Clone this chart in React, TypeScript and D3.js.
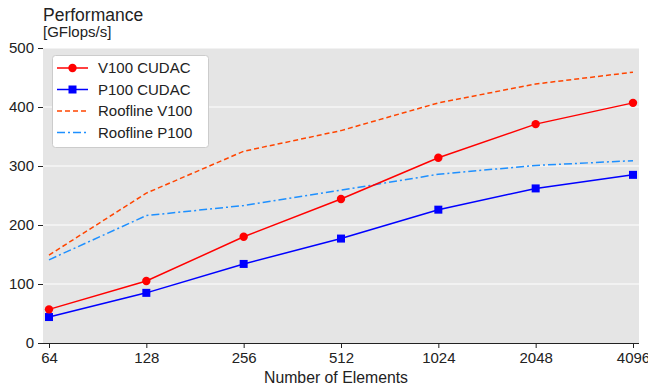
import React from "react";
import * as d3 from "d3";

const sizes = [64, 128, 256, 512, 1024, 2048, 4096];
const v100Cudac = [57, 105, 180, 244, 314, 371, 407];
const p100Cudac = [44, 85, 134, 177, 226, 262, 285];
const roofV100 = [149, 254, 325, 360, 407, 439, 459];
const roofP100 = [141, 216, 233, 259, 286, 301, 309];
const yTicks = [0, 100, 200, 300, 400, 500];

const series = [
  { name: "V100 CUDAC", values: v100Cudac, color: "#ff0000", dash: "", marker: "circle" },
  { name: "P100 CUDAC", values: p100Cudac, color: "#0000ff", dash: "", marker: "square" },
  { name: "Roofline V100", values: roofV100, color: "#ff4500", dash: "5,3", marker: "" },
  { name: "Roofline P100", values: roofP100, color: "#1e90ff", dash: "8,3,2,3", marker: "" },
];

const W = 648;
const H = 386;
const margin = { left: 43, right: 9, top: 48, bottom: 43 };
const font = "'Liberation Sans', Arial, sans-serif";

const App = () => {
  const ref = React.useRef<SVGSVGElement>(null);

  React.useEffect(() => {
    const svg = d3.select(ref.current);
    svg.selectAll("*").remove();
    const pw = W - margin.left - margin.right;
    const ph = H - margin.top - margin.bottom;
    const x = d3.scaleLog().base(2).domain([64, 4096]).range([margin.left + 6, margin.left + pw - 6]);
    const y = d3.scaleLinear().domain([0, 500]).range([margin.top + ph, margin.top]);

    svg.append("rect")
      .attr("x", margin.left).attr("y", margin.top)
      .attr("width", pw).attr("height", ph)
      .attr("fill", "#e5e5e5");

    svg.append("g").selectAll("line")
      .data(yTicks.slice(1))
      .enter().append("line")
      .attr("x1", margin.left).attr("x2", margin.left + pw)
      .attr("y1", d => y(d)).attr("y2", d => y(d))
      .attr("stroke", "#fff").attr("stroke-width", 1);

    const xAxis = svg.append("g")
      .attr("transform", `translate(0,${margin.top + ph})`)
      .call(d3.axisBottom(x).tickValues(sizes).tickFormat(d3.format("d")).tickSizeOuter(0).tickSize(5));
    xAxis.select(".domain").attr("d", `M${margin.left},0.5H${margin.left + pw}`).attr("stroke", "#222");
    xAxis.selectAll(".tick line").attr("stroke", "#222");
    xAxis.selectAll("text").attr("font-size", 15).attr("font-family", font).attr("fill", "#222")
      .attr("y", 20).attr("dy", null);

    const yAxis = svg.append("g")
      .attr("transform", `translate(${margin.left},0)`)
      .call(d3.axisLeft(y).tickValues(yTicks).tickSize(5).tickSizeOuter(0));
    yAxis.select(".domain").remove();
    yAxis.selectAll(".tick line").attr("stroke", "#222");
    yAxis.selectAll("text").attr("font-size", 15).attr("font-family", font).attr("fill", "#222").attr("x", -9);

    const line = d3.line<number>().x((_, i) => x(sizes[i])).y(d => y(d));

    // draw rooflines first, then measured series
    [...series].reverse().forEach(s => {
      svg.append("path")
        .attr("d", line(s.values))
        .attr("fill", "none")
        .attr("stroke", s.color)
        .attr("stroke-width", 1.5)
        .attr("stroke-dasharray", s.dash || null);
      if (s.marker === "circle") {
        svg.append("g").selectAll("circle").data(s.values).enter().append("circle")
          .attr("cx", (_, i) => x(sizes[i])).attr("cy", d => y(d)).attr("r", 4.2)
          .attr("fill", s.color);
      } else if (s.marker === "square") {
        svg.append("g").selectAll("rect").data(s.values).enter().append("rect")
          .attr("x", (_, i) => x(sizes[i]) - 4).attr("y", d => y(d) - 4)
          .attr("width", 8).attr("height", 8)
          .attr("fill", s.color);
      }
    });

    // legend
    const lg = svg.append("g").attr("transform", "translate(52,55)");
    lg.append("rect")
      .attr("x", 0.5).attr("y", 0.5).attr("width", 156).attr("height", 92).attr("rx", 3)
      .attr("fill", "#fff").attr("stroke", "#ccc").attr("stroke-width", 1);
    series.forEach((s, i) => {
      const cy = 13 + i * 21.5;
      lg.append("line")
        .attr("x1", 5).attr("x2", 36).attr("y1", cy).attr("y2", cy)
        .attr("stroke", s.color).attr("stroke-width", 1.5)
        .attr("stroke-dasharray", s.dash || null);
      if (s.marker === "circle") {
        lg.append("circle").attr("cx", 20.5).attr("cy", cy).attr("r", 4.2).attr("fill", s.color);
      } else if (s.marker === "square") {
        lg.append("rect").attr("x", 16.5).attr("y", cy - 4).attr("width", 8).attr("height", 8).attr("fill", s.color);
      }
      lg.append("text")
        .attr("x", 46).attr("y", cy).attr("dy", "0.35em")
        .attr("font-size", 15).attr("font-family", font).attr("fill", "#222")
        .text(s.name);
    });

    svg.append("text")
      .attr("x", 43).attr("y", 21)
      .attr("font-size", 17.5).attr("font-family", font).attr("fill", "#222")
      .text("Performance");
    svg.append("text")
      .attr("x", 43).attr("y", 36.5)
      .attr("font-size", 15).attr("font-family", font).attr("fill", "#222")
      .text("[GFlops/s]");
    svg.append("text")
      .attr("x", 336).attr("y", 382.5)
      .attr("text-anchor", "middle")
      .attr("font-size", 15.8).attr("font-family", font).attr("fill", "#222")
      .text("Number of Elements");
  }, []);

  return (
    <svg
      ref={ref}
      width={W}
      height={H}
      style={{ position: "absolute", left: 0, top: 0, display: "block", background: "#fff" }}
    />
  );
};

export default App;
